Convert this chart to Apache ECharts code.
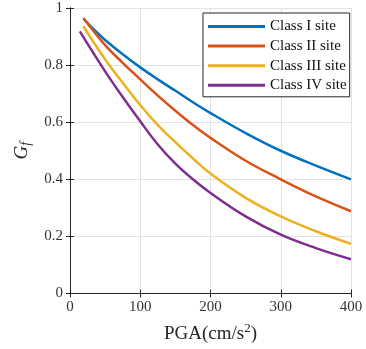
<!DOCTYPE html>
<html>
<head>
<meta charset="utf-8">
<script src="https://cdn.jsdelivr.net/npm/echarts@6/dist/echarts.min.js"></script>
<style>html,body{margin:0;padding:0;background:#fff;}#c{width:366px;height:349px;}</style>
</head>
<body>
<div id="c"></div>
<script>
const seriesNames = ['Class I site', 'Class II site', 'Class III site', 'Class IV site'];
const colors = ['#0072BD', '#D95319', '#EDB120', '#7E2F8E'];
const classI_x = [20, 35, 50, 75, 100, 125, 150, 175, 200, 250, 300, 350, 400];
const classI_y = [0.96, 0.922, 0.888, 0.838, 0.792, 0.75, 0.71, 0.67, 0.632, 0.562, 0.50, 0.448, 0.40];
const classII_x = [19, 50, 75, 100, 125, 150, 175, 200, 250, 300, 350, 400];
const classII_y = [0.965, 0.87, 0.808, 0.75, 0.693, 0.64, 0.59, 0.545, 0.465, 0.40, 0.34, 0.288];
const classIII_x = [19, 50, 75, 100, 125, 150, 175, 200, 250, 300, 350, 400];
const classIII_y = [0.936, 0.82, 0.738, 0.66, 0.59, 0.53, 0.473, 0.42, 0.335, 0.27, 0.218, 0.174];
const classIV_x = [14, 50, 75, 100, 125, 150, 175, 200, 250, 300, 350, 400];
const classIV_y = [0.918, 0.778, 0.688, 0.603, 0.522, 0.455, 0.40, 0.352, 0.27, 0.206, 0.159, 0.12];
const xTicks = [0, 100, 200, 300, 400];
const yTicks = [0, 0.2, 0.4, 0.6, 0.8, 1];

const xs = [classI_x, classII_x, classIII_x, classIV_x];
const ys = [classI_y, classII_y, classIII_y, classIV_y];
const FONT = '"Liberation Serif", "DejaVu Serif", serif';
const axisCol = '#262626';

const chart = echarts.init(document.getElementById('c'), null, {renderer: 'canvas'});
const series = seriesNames.map((n, i) => ({
  name: n, type: 'line', smooth: 0.4, showSymbol: false,
  data: xs[i].map((x, j) => [x, ys[i][j]]),
  lineStyle: {width: 2.5, color: colors[i]}, itemStyle: {color: colors[i]},
  xAxisIndex: 0, yAxisIndex: 0, z: 3
}));

const xCommon = {type: 'value', min: xTicks[0], max: xTicks[xTicks.length - 1], interval: 100,
  axisLine: {show: true, lineStyle: {color: axisCol, width: 1}},
  axisTick: {show: true, inside: true, length: 4, lineStyle: {color: axisCol}},
  splitLine: {show: false}};
const yCommon = {type: 'value', min: yTicks[0], max: yTicks[yTicks.length - 1], interval: 0.2,
  axisLine: {show: true, lineStyle: {color: axisCol, width: 1}},
  axisTick: {show: true, inside: true, length: 4, lineStyle: {color: axisCol}},
  splitLine: {show: false}};

chart.setOption({
  animation: false,
  backgroundColor: '#fff',
  grid: {left: 70, right: 15, top: 8, bottom: 55, containLabel: false},
  legend: {
    data: seriesNames, orient: 'vertical', left: 203, top: 13,
    icon: 'rect', itemWidth: 57, itemHeight: 3, itemGap: 4.6,
    padding: [6, 3, 4, 5],
    backgroundColor: '#fff', borderColor: axisCol, borderWidth: 1, borderRadius: 0,
    textStyle: {fontFamily: FONT, fontSize: 15, color: '#111', lineHeight: 15}
  },
  xAxis: [
    Object.assign({}, xCommon, {position: 'bottom',
      name: 'PGA(cm/s{sup|2})', nameLocation: 'middle', nameGap: 29,
      nameTextStyle: {fontFamily: FONT, fontSize: 19, color: '#262626',
        rich: {sup: {fontFamily: FONT, fontSize: 13, verticalAlign: 'bottom', padding: [0, 0, 11, 0], color: '#262626'}}},
      axisLabel: {fontFamily: FONT, fontSize: 15, color: '#333', margin: 6},
      splitLine: {show: true, lineStyle: {color: '#e3e3e3', width: 1}}}),
    Object.assign({}, xCommon, {position: 'top', axisLabel: {show: false}})
  ],
  yAxis: [
    Object.assign({}, yCommon, {position: 'left',
      name: '{g|G}{s|f}', nameLocation: 'middle', nameGap: 30, nameRotate: 90,
      nameTextStyle: {rich: {
        g: {fontFamily: FONT, fontStyle: 'italic', fontSize: 19, color: '#262626'},
        s: {fontFamily: FONT, fontStyle: 'italic', fontSize: 14, color: '#262626', verticalAlign: 'top', padding: [9, 0, 0, 0]}}},
      axisLabel: {fontFamily: FONT, fontSize: 15, color: '#333', margin: 7,
        formatter: v => String(Math.round(v * 10) / 10)},
      splitLine: {show: true, lineStyle: {color: '#e3e3e3', width: 1}}}),
    Object.assign({}, yCommon, {position: 'right', axisLabel: {show: false}})
  ],
  series: series
});
</script>
</body>
</html>
